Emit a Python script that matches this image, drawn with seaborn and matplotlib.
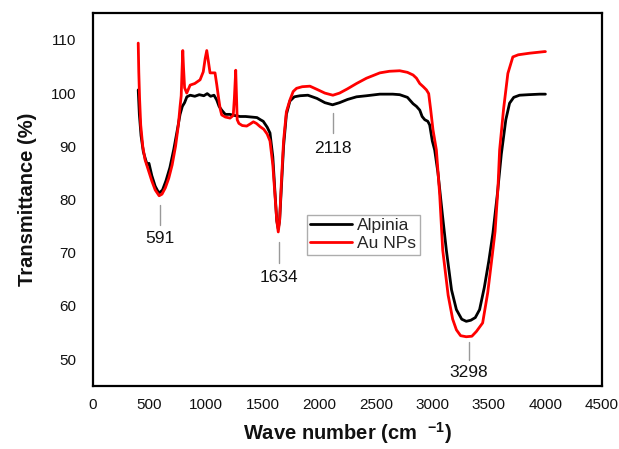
import numpy as np
import pandas as pd
import matplotlib
matplotlib.use('Agg')
import matplotlib.pyplot as plt
import seaborn as sns

# Alpinia spectrum
alp_x = [400, 410, 425, 445, 465, 480, 495, 520, 550, 575, 591, 615, 645, 680, 715, 745, 770, 790,
         810, 830, 860, 900, 940, 980, 1010, 1040, 1070, 1094, 1115, 1138, 1170, 1210, 1250, 1300,
         1350, 1400, 1450, 1480, 1505, 1540, 1565, 1590, 1610, 1625, 1638, 1650, 1665, 1685, 1710,
         1741, 1780, 1830, 1900, 1980, 2050, 2118, 2180, 2250, 2330, 2418, 2536, 2650, 2712, 2780,
         2830, 2860, 2889, 2910, 2933, 2960, 2977, 3000, 3021, 3050, 3090, 3124, 3170, 3213, 3260,
         3300, 3340, 3380, 3418, 3460, 3500, 3536, 3575, 3610, 3650, 3683, 3720, 3771, 3850, 3950, 4000]
alp_y = [100.6, 96, 92, 89, 87.5, 86.5, 86.8, 84.5, 82.5, 81.5, 81.3, 81.8, 83.5, 86, 89.5, 93, 96, 97.5,
         98.2, 99.3, 99.6, 99.4, 99.7, 99.5, 99.9, 99.4, 99.6, 98.7, 97.5, 96.8, 96.0, 96.0, 95.8, 95.6,
         95.6, 95.5, 95.4, 95.0, 94.7, 93.6, 92.5, 88, 81, 76, 74.5, 76, 82, 90, 96,
         98.5, 99.3, 99.5, 99.6, 99.0, 98.2, 97.8, 98.2, 98.8, 99.3, 99.5, 99.8, 99.8, 99.7, 99.2,
         98.0, 97.5, 96.8, 95.6, 95.0, 94.7, 94.0, 91, 89.3, 85, 77, 70.5, 63, 59.3, 57.5,
         57.1, 57.3, 57.8, 59.3, 63.5, 68.5, 73.7, 81, 88.5, 95, 98.1, 99.2, 99.6, 99.7, 99.8, 99.8]

# Au NPs spectrum
au_x = [400, 405, 412, 422, 440, 460, 490, 520, 550, 585, 610, 640, 670, 700, 730, 755, 770, 780,
        787, 794, 800, 810, 829, 859, 900, 947, 975, 992, 1006, 1020, 1035, 1060, 1079, 1095, 1109,
        1125, 1138, 1170, 1212, 1240, 1250, 1262, 1268, 1275, 1290, 1320, 1359, 1390, 1418, 1445,
        1477, 1510, 1540, 1565, 1590, 1610, 1625, 1638, 1650, 1665, 1685, 1710, 1741, 1770, 1800,
        1850, 1918, 1980, 2050, 2121, 2180, 2250, 2330, 2418, 2536, 2620, 2712, 2780, 2830, 2860,
        2889, 2920, 2948, 2968, 2985, 3006, 3036, 3065, 3092, 3140, 3180, 3213, 3250, 3300, 3350,
        3390, 3445, 3490, 3530, 3555, 3580, 3595, 3630, 3668, 3712, 3760, 3860, 3992, 4000]
au_y = [109.4, 104, 99, 94, 90, 87.5, 85.5, 83.5, 81.8, 80.7, 81, 82.2, 84, 86.5, 90, 94, 97.5, 99.5,
        104, 108, 105, 101, 100, 101.5, 101.8, 102.5, 104, 106.5, 108, 106, 103.8, 103.8, 103.8, 101.5, 99.3,
        97, 95.9, 95.5, 95.3, 95.8, 99, 104.3, 100, 95, 94.3, 93.9, 93.8, 94.2, 94.6, 94.3,
        93.7, 93.2, 92.3, 91.0, 86.5, 80.5, 76, 73.9, 76, 83, 91, 96.5, 98.7, 100.3, 100.9,
        101.2, 101.3, 100.7, 100.0, 99.6, 100.0, 100.8, 101.8, 102.8, 103.8, 104.1, 104.2, 103.9, 103.4, 102.8,
        101.8, 101.2, 100.6, 99.9, 97, 93.1, 89.3, 81, 70.5, 62, 57.5, 55.5, 54.4, 54.2, 54.3,
        55.2, 56.8, 62.5, 69.5, 74, 82, 89.3, 97, 103.7, 106.8, 107.2, 107.5, 107.8, 107.8]

# peak labels: (position, line start, line end, text y)
peak_labels = ['591', '1634', '2118', '3298']
peak_x = [591, 1645, 2118, 3320]
peak_line_top = [78.9, 72.0, 96.3, 53.3]
peak_line_bot = [75.2, 68.0, 92.5, 49.8]
peak_text_y = [72.6, 65.4, 89.6, 47.4]

df = pd.concat([
    pd.DataFrame({'wave': alp_x, 'T': alp_y, 'sample': 'Alpinia'}),
    pd.DataFrame({'wave': au_x, 'T': au_y, 'sample': 'Au NPs'}),
], ignore_index=True)

sns.set_theme(style='white')
plt.rcParams['font.family'] = ['Liberation Sans', 'DejaVu Sans']
plt.rcParams['mathtext.fontset'] = 'custom'
plt.rcParams['mathtext.bf'] = 'Liberation Sans:bold'
plt.rcParams['mathtext.rm'] = 'Liberation Sans'

fig = plt.figure(figsize=(6.19, 4.49), dpi=100)
ax = fig.add_axes([0.1502, 0.141, 0.8223, 0.8294])

sns.lineplot(data=df, x='wave', y='T', hue='sample', palette={'Alpinia': 'black', 'Au NPs': '#ff0000'},
             estimator=None, sort=False, linewidth=2, ax=ax)

# peak markers
for lab, px, yt, yb, ty in zip(peak_labels, peak_x, peak_line_top, peak_line_bot, peak_text_y):
    ax.plot([px, px], [yt, yb], color='#999999', lw=1)
    ax.text(px, ty, lab, ha='center', va='center', fontsize=12.5, color='#111111')

ax.set_xlim(0, 4500)
ax.set_ylim(45, 115)
ax.set_xticks(np.arange(0, 4501, 500))
ax.set_yticks(np.arange(50, 111, 10))
ax.tick_params(axis='both', length=0, labelsize=11, colors='#111111')
ax.tick_params(axis='x', pad=9)
ax.tick_params(axis='y', pad=12)
for s in ax.spines.values():
    s.set_color('black')
    s.set_linewidth(1.6)

ax.set_xlabel(r'Wave number (cm  $\mathbf{^{-1}}$)', fontsize=14.5, fontweight='bold',
              labelpad=6, color='#111111')
ax.set_ylabel('Transmittance (%)', fontsize=14.5, fontweight='bold', labelpad=10, color='#111111')

leg = ax.legend(loc='lower left', bbox_to_anchor=(0.42, 0.352), fontsize=12.5, frameon=True,
                fancybox=False, edgecolor='#999999', handlelength=2.4, handletextpad=0.3,
                borderpad=0.2, labelspacing=0.15, borderaxespad=0)
leg.get_frame().set_linewidth(1)
for h in leg.get_lines():
    h.set_linewidth(2)

plt.savefig('out.png', dpi=100)
